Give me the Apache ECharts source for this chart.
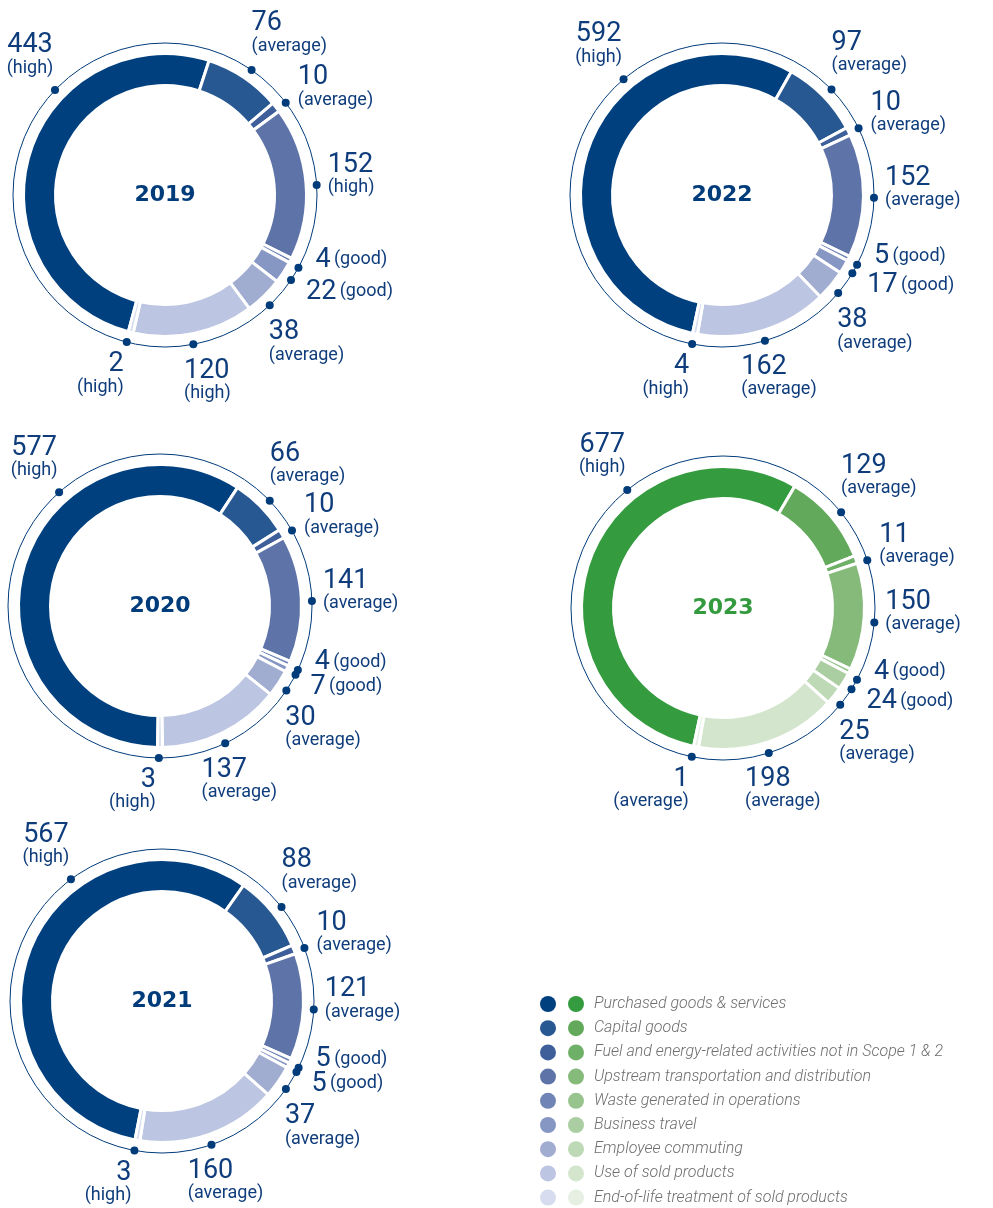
<!DOCTYPE html>
<html>
<head>
<meta charset="UTF-8">
<title>Scope 3 emissions</title>
<script src="https://cdn.jsdelivr.net/npm/echarts@6/dist/echarts.min.js"></script>
<style>
    body { margin: 0; padding: 0; overflow: hidden; background: #fff; }
    #chart { width: 993px; height: 1208px; }
</style>
</head>
<body>
<div id="chart"></div>
<script>
    const categories = [
        'Purchased goods & services',
        'Capital goods',
        'Fuel and energy-related activities not in Scope 1 & 2',
        'Upstream transportation and distribution',
        'Waste generated in operations',
        'Business travel',
        'Employee commuting',
        'Use of sold products',
        'End-of-life treatment of sold products'
    ];
    const years = ['2019', '2020', '2021', '2022', '2023'];

    const values2019 = [443, 76, 10, 152, 4, 22, 38, 120, 2];
    const values2020 = [577, 66, 10, 141, 4, 7, 30, 137, 3];
    const values2021 = [567, 88, 10, 121, 5, 5, 37, 160, 3];
    const values2022 = [592, 97, 10, 152, 5, 17, 38, 162, 4];
    const values2023 = [677, 129, 11, 150, 4, 24, 25, 198, 1];

    const ratings2019 = ['high', 'average', 'average', 'high', 'good', 'good', 'average', 'high', 'high'];
    const ratings2020 = ['high', 'average', 'average', 'average', 'good', 'good', 'average', 'average', 'high'];
    const ratings2021 = ['high', 'average', 'average', 'average', 'good', 'good', 'average', 'average', 'high'];
    const ratings2022 = ['high', 'average', 'average', 'average', 'good', 'good', 'average', 'average', 'high'];
    const ratings2023 = ['high', 'average', 'average', 'average', 'good', 'good', 'average', 'average', 'average'];

    // colours
    const blues = ['#00407f', '#285892', '#3f5f9b', '#5e74a9', '#7084b6', '#8797c4', '#a0add1', '#bcc5e1', '#d7dcee'];
    const greens = ['#349b3f', '#62a95b', '#6fb068', '#85ba7b', '#97c48d', '#aacea1', '#bdd9b5', '#d3e6cd', '#e5f0e2'];
    const navy = '#003b7a';
    const textBlue = '#0f3d7c';

    // where each category's label sits next to its dot
    // box: which edge of the label box dx refers to; v: which edge dy refers to; align: line alignment
    const labelSpots = [
        {box: 'center', dx: -25, v: 'bottom', dy: -12, align: 'center'},
        {box: 'left', dx: 0, v: 'bottom', dy: -14, align: 'left'},
        {box: 'left', dx: 12, v: 'middle', dy: -15, align: 'left'},
        {box: 'left', dx: 11, v: 'middle', dy: -10, align: 'left'},
        {box: 'left', dx: 17, v: 'middle', dy: -7, align: 'left'},
        {box: 'left', dx: 15, v: 'middle', dy: 13, align: 'left'},
        {box: 'left', dx: -1, v: 'top', dy: 15, align: 'left'},
        {box: 'center', dx: 14, v: 'top', dy: 14, align: 'left'},
        {box: 'right', dx: -3, v: 'top', dy: 10, align: 'right'}
    ];

    // layout of each ring: centre and where the first slice starts (deg, clockwise from 12 o'clock)
    const panels = [
        {year: years[0], values: values2019, ratings: ratings2019, cx: 165, cy: 195, start: 195, colors: blues, yearColor: navy},
        {year: years[1], values: values2020, ratings: ratings2020, cx: 160, cy: 606, start: 181, colors: blues, yearColor: navy},
        {year: years[2], values: values2021, ratings: ratings2021, cx: 162, cy: 1001, start: 191, colors: blues, yearColor: navy},
        {year: years[3], values: values2022, ratings: ratings2022, cx: 722, cy: 195, start: 192, colors: blues, yearColor: navy},
        {year: years[4], values: values2023, ratings: ratings2023, cx: 723, cy: 608, start: 192, colors: greens, yearColor: '#339a3e'}
    ];

    const FONT = 'Roboto, "Liberation Sans", sans-serif';
    const ec = echarts.init(document.getElementById('chart'));
    const option = {animation: false, polar: [], angleAxis: [], radiusAxis: [], series: [], legend: []};

    panels.forEach((p, i) => {
        const total = p.values.reduce((a, b) => a + b, 0);
        const ecStart = ((90 - p.start) % 360 + 360) % 360;

        option.series.push({
            type: 'pie',
            center: [p.cx, p.cy],
            radius: [109.5, 141.5],
            startAngle: ecStart,
            clockwise: true,
            minAngle: 2,
            silent: true,
            label: {show: false},
            labelLine: {show: false},
            itemStyle: {borderColor: '#fff', borderWidth: 3},
            data: categories.map((name, k) => ({
                name: name,
                value: p.values[k],
                itemStyle: {color: p.colors[k]},
                label: k === 0 ? {
                    show: true, position: 'center', formatter: p.year,
                    fontFamily: '"DejaVu Sans", sans-serif', fontWeight: 'bold', fontSize: 22, color: p.yearColor
                } : {show: false}
            }))
        });

        option.polar.push({center: [p.cx, p.cy], radius: 152});
        option.angleAxis.push({
            polarIndex: i, type: 'value', min: 0, max: total, startAngle: ecStart, clockwise: true,
            axisLine: {show: true, lineStyle: {color: navy, width: 1}},
            axisTick: {show: false}, axisLabel: {show: false}, splitLine: {show: false}
        });
        option.radiusAxis.push({
            polarIndex: i, type: 'value', min: 0, max: 1,
            axisLine: {show: false}, axisTick: {show: false}, axisLabel: {show: false}, splitLine: {show: false}
        });

        // dot positions: middle of each slice, purchased goods label sits further round
        let acc = 0;
        const pos = p.values.map((v, k) => {
            const a = k === 0 ? acc + v * 0.645 : acc + v / 2;
            acc += v;
            return a;
        });

        option.series.push({
            type: 'scatter',
            coordinateSystem: 'polar',
            polarIndex: i,
            symbolSize: 8,
            silent: true,
            itemStyle: {color: navy, opacity: 1},
            data: pos.map((a, k) => {
                const txt = p.ratings[k] === 'good'
                    ? `{v|${p.values[k]}} {q|(good)}`
                    : `{v|${p.values[k]}}\n{q|(${p.ratings[k]})}`;
                return {
                    value: [1, a],
                    label: {
                        show: true,
                        formatter: txt,
                        color: textBlue,
                        opacity: 1,
                        align: labelSpots[k].align,
                        verticalAlign: 'top',
                        rich: {
                            v: {fontSize: 27, lineHeight: 25, fontWeight: 400, fontFamily: FONT, color: textBlue},
                            q: {fontSize: 18, lineHeight: 20, fontWeight: 400, fontFamily: FONT, color: textBlue}
                        }
                    }
                };
            }),
            labelLayout: (params) => {
                const spot = labelSpots[params.dataIndex];
                const r = params.rect;
                const px = r.x + r.width / 2, py = r.y + r.height / 2;
                const w = params.labelRect.width, h = params.labelRect.height;
                let left = px + spot.dx;
                if (spot.box === 'center') left -= w / 2;
                if (spot.box === 'right') left -= w;
                let top = py + spot.dy;
                if (spot.v === 'middle') top -= h / 2;
                if (spot.v === 'bottom') top -= h;
                const x = spot.align === 'left' ? left : (spot.align === 'right' ? left + w : left + w / 2);
                return {x: x, y: top};
            }
        });
    });

    const legendBase = {
        orient: 'vertical', top: 996, padding: 0,
        itemWidth: 26, itemHeight: 16, itemGap: 8.2, icon: 'circle',
        selectedMode: false,
        itemStyle: {borderWidth: 0},
        textStyle: {fontSize: 16, lineHeight: 16, fontFamily: FONT, fontStyle: 'italic', fontWeight: 300, color: '#6e6e6e'}
    };
    option.legend.push(Object.assign({}, legendBase, {
        left: 540,
        data: categories.map((n, k) => ({name: n, itemStyle: {color: blues[k]}})),
        formatter: () => ''
    }));
    option.legend.push(Object.assign({}, legendBase, {
        left: 568,
        data: categories.map((n, k) => ({name: n, itemStyle: {color: greens[k]}}))
    }));

    ec.setOption(option);
</script>
</body>
</html>
